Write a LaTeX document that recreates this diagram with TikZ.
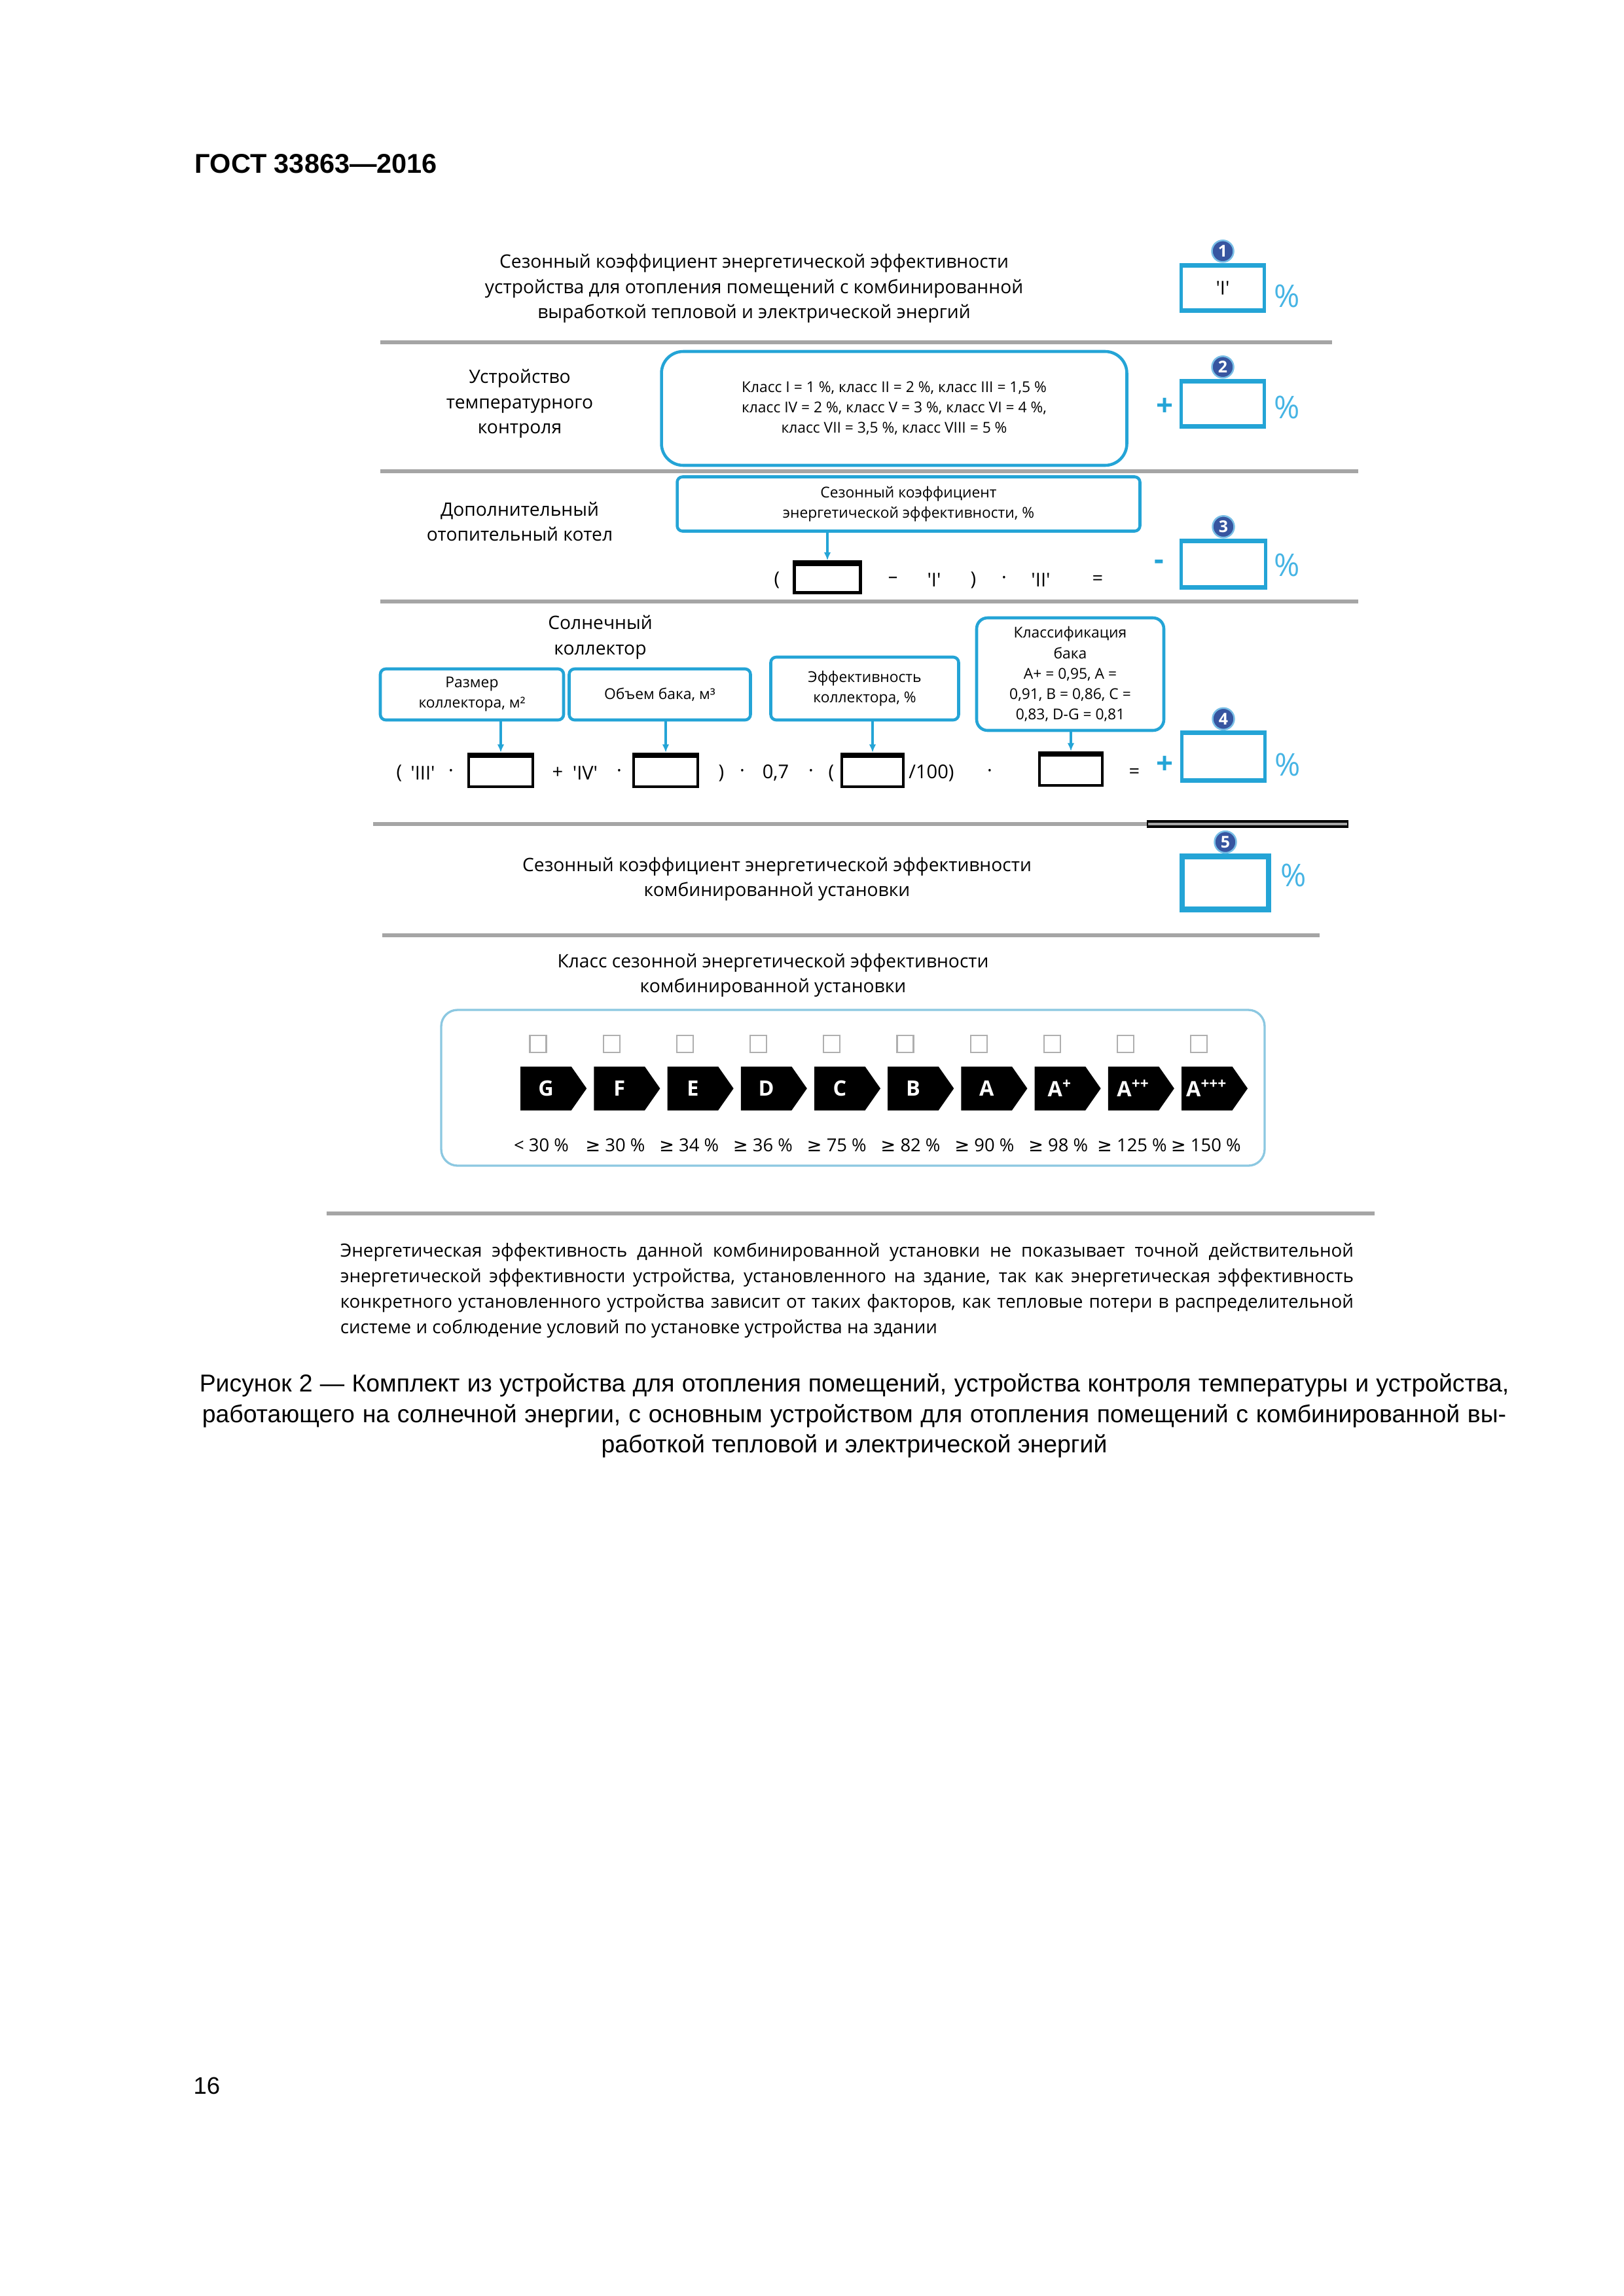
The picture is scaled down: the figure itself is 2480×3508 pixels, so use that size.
\documentclass[tikz,border=0pt]{standalone}
\usepackage{fontspec}
\setmainfont{Liberation Sans}
\newfontfamily\dfont[Ligatures=TeXOff]{Open Sans}
\newfontfamily\symfont{DejaVu Sans}
\usetikzlibrary{positioning, shapes.symbols, arrows.meta}

\definecolor{boxblue}{RGB}{36,164,214}
\definecolor{pctblue}{RGB}{70,180,228}
\definecolor{numblue}{RGB}{55,85,160}
\definecolor{numring}{RGB}{120,190,230}
\definecolor{sepgray}{RGB}{165,165,165}
\definecolor{chkgray}{RGB}{175,175,175}
\definecolor{framblue}{RGB}{140,200,225}

\newcommand\pxu{0.24093pt}
\newcommand\q[1]{\textquotesingle#1\textquotesingle}
\newcommand\gsym{{\symfont ≥}}

\tikzset{
  hdr/.style={font=\bfseries\fontsize{10}{11}\selectfont, inner sep=0pt},
  ttl/.style={font=\dfont\fontsize{6.8}{9.3}\selectfont, align=center, inner sep=0pt},
  small/.style={font=\dfont\fontsize{5.5}{7.5}\selectfont, align=center},
  frm/.style={font=\dfont\fontsize{7}{9}\selectfont, inner sep=0pt},
  op/.style={text=boxblue, font=\dfont\bfseries\fontsize{11}{11}\selectfont, inner sep=0pt},
  pct/.style={text=pctblue, font=\dfont\fontsize{11.5}{11.5}\selectfont, inner sep=0pt},
  sep/.style={draw=sepgray, line width=1.3pt},
  rbox/.style={small, draw=boxblue, line width=1.1pt, inner sep=0pt},
  ansbox/.style={draw=boxblue, line width=1.2pt, minimum width=127*\pxu, minimum height=72*\pxu,
    inner sep=0pt, font=\dfont\fontsize{7}{9}\selectfont,
    path picture={\draw[boxblue, line width=2.4pt]
      (path picture bounding box.north west) -- (path picture bounding box.north east)
      (path picture bounding box.south west) -- (path picture bounding box.south east);}},
  blkbox/.style={draw=black, line width=1pt, minimum width=98*\pxu, minimum height=50*\pxu, inner sep=0pt,
    path picture={\draw[line width=3pt]
      (path picture bounding box.north west) -- (path picture bounding box.north east);}},
  numc/.style={circle, fill=numblue, draw=numring, line width=0.6pt, text=white,
    font=\dfont\bfseries\fontsize{6}{6}\selectfont, minimum size=33*\pxu, inner sep=0pt},
  con/.style={draw=boxblue, line width=1pt, -{Latex[length=3pt, width=2.5pt]}},
  chk/.style={draw=chkgray, line width=0.5pt, minimum width=25*\pxu, minimum height=26*\pxu, inner sep=0pt},
  cls/.style={signal, signal to=east, signal pointer angle=110, fill=black, text=white,
    minimum width=101*\pxu, minimum height=67*\pxu, inner sep=0pt,
    font=\dfont\bfseries\fontsize{7.8}{8}\selectfont},
  lim/.style={font=\dfont\fontsize{6.6}{8}\selectfont, inner sep=0pt},
  note/.style={font=\dfont\fontsize{6.7}{9.4}\selectfont, align=left, inner sep=0pt},
  capt/.style={font=\fontsize{9}{11.1}\selectfont, align=center, inner sep=0pt},
}

\begin{document}
\begin{tikzpicture}[x=0.0084677cm, y=-0.0084677cm]
\fill[white] (0,0) rectangle (2480,3508);

\node[hdr, anchor=west] (head) at (297,250) {ГОСТ 33863—2016};

% 1: main heater
\node[ttl] (t1) at (1152,441) {Сезонный коэффициент энергетической эффективности\\устройства для отопления помещений с комбинированной\\выработкой тепловой и электрической энергий};
\node[ansbox] (b1) at (1868,440) {\q{I}};
\node[numc, above=0pt of b1] (n1) {1};
\node[pct] (p1) at (1966,452) {\%};
\draw[sep] (581,523) -- (2035,523);

% 2: temperature control
\node[ttl] (t2) at (794,617) {Устройство\\температурного\\контроля};
\node[rbox, rounded corners=8pt, minimum width=711*\pxu, minimum height=174*\pxu] (k2) at (1366,624)
  {Класс I = 1 \%, класс II = 2 \%, класс III = 1,5 \%\\класс IV = 2 \%, класс V = 3 \%, класс VI = 4 \%,\\класс VII = 3,5 \%, класс VIII = 5 \%};
\node[op] (o2) at (1780,622) {+};
\node[ansbox] (b2) at (1868,617) {};
\node[numc, above=0pt of b2] (n2) {2};
\node[pct] (p2) at (1966,622) {\%};
\draw[sep] (581,720) -- (2075,720);

% 3: supplementary boiler
\node[ttl] (t3) at (794,797) {Дополнительный\\отопительный котел};
\node[rbox, rounded corners=2pt, minimum width=707*\pxu, minimum height=83*\pxu] (k3) at (1388,770)
  {Сезонный коэффициент\\энергетической эффективности, \%};
\node[blkbox, minimum width=101*\pxu, minimum height=47*\pxu] (bk3) at (1264,882) {};
\draw[con] (bk3.north |- k3.south) -- (bk3.north);
\foreach \xx/\sym [count=\i] in {1187/(, 1364/–, 1427/\q{I}, 1487/), 1534/·, 1590/\q{II}, 1677/=}
  \node[frm] (f3\i) at (\xx,886) {\sym};
\node[op] (o3) at (1771,863) {-};
\node[ansbox, minimum width=129*\pxu, minimum height=74*\pxu] (b3) at (1869,862) {};
\node[numc, above=0pt of b3] (n3) {3};
\node[pct] (p3) at (1966,863) {\%};
\draw[sep] (581,919) -- (2075,919);

% 4: solar collector
\node[ttl] (t4) at (917,974) {Солнечный\\коллектор};
\node[rbox, rounded corners=2pt, minimum width=280*\pxu, minimum height=78*\pxu] (k4a) at (721,1061)
  {Размер\\коллектора, м²};
\node[rbox, rounded corners=2pt, minimum width=277*\pxu, minimum height=78*\pxu] (k4b) at (1008,1061)
  {Объем бака, м³};
\node[rbox, rounded corners=2pt, minimum width=287*\pxu, minimum height=96*\pxu] (k4c) at (1321,1052)
  {Эффективность\\коллектора, \%};
\node[rbox, rounded corners=4pt, minimum width=286*\pxu, minimum height=172*\pxu] (k4d) at (1635,1030)
  {Классификация\\бака\\A+ = 0,95, A =\\0,91, B = 0,86, C =\\0,83, D-G = 0,81};
\node[blkbox] (bk4a) at (765,1177) {};
\node[blkbox] (bk4b) at (1017,1177) {};
\node[blkbox, minimum width=94*\pxu] (bk4c) at (1333,1177) {};
\node[blkbox, minimum width=96*\pxu] (bk4d) at (1636,1175) {};
\draw[con] (bk4a.north |- k4a.south) -- (bk4a.north);
\draw[con] (bk4b.north |- k4b.south) -- (bk4b.north);
\draw[con] (bk4c.north |- k4c.south) -- (bk4c.north);
\draw[con] (bk4d.north |- k4d.south) -- (bk4d.north);
\foreach \xx/\sym [count=\i] in {610/(, 646/\q{III}, 689/·, 852/+, 894/\q{IV}, 946/·, 1102/), 1134/·,
    1185/{0,7}, 1239/·, 1270/(, 1423/{/100)}, 1512/·, 1733/=}
  \node[frm] (f4\i) at (\xx,1181) {\sym};
\node[op] (o4) at (1780,1169) {+};
\node[ansbox, minimum height=75*\pxu] (b4) at (1869,1156) {};
\node[numc, above=0pt of b4] (n4) {4};
\node[pct] (p4) at (1967,1168) {\%};
\draw[sep] (570,1259) -- (1752,1259);
\draw[line width=2.8pt] (1752,1259) -- (2060,1259);
\draw[sepgray, line width=1pt] (1754,1259) -- (2058,1259);

% 5: package efficiency
\node[ttl] (t5) at (1187,1343) {Сезонный коэффициент энергетической эффективности\\комбинированной установки};
\node[ansbox, line width=1.8pt, minimum width=132*\pxu, minimum height=82*\pxu] (b5) at (1872,1349) {};
\node[numc, above=0pt of b5] (n5) {5};
\node[pct] (p5) at (1976,1337) {\%};
\draw[sep] (584,1429) -- (2016,1429);

% 6: package class
\node[ttl] (t6) at (1181,1490) {Класс сезонной энергетической эффективности\\комбинированной установки};
\node[draw=framblue, line width=0.8pt, rounded corners=6pt, minimum width=1258*\pxu, minimum height=238*\pxu] (fr6) at (1303,1662) {};
\foreach \cl/\lm [count=\i from 0] in {G/{< 30 \%}, F/{\gsym\ 30 \%}, E/{\gsym\ 34 \%}, D/{\gsym\ 36 \%},
    C/{\gsym\ 75 \%}, B/{\gsym\ 82 \%}, A/{\gsym\ 90 \%}, {A\textsuperscript{+}}/{\gsym\ 98 \%},
    {A\textsuperscript{++}}/{\gsym\ 125 \%}, {A\textsuperscript{+++}}/{\gsym\ 150 \%}}
{
  \node[chk] (chk\i) at (822+112.2*\i,1595) {};
  \node[cls] (cls\i) at (834+112.2*\i,1663) {\cl};
  \node[lim] (lim\i) at (827+112.8*\i,1750) {\lm};
}
\draw[sep] (499,1854) -- (2100,1854);

% note under the label
\node[note, anchor=north west] (note) at (519,1898) {%
\makebox[373pt][s]{Энергетическая эффективность данной комбинированной установки не показывает точной действительной}\\
\makebox[373pt][s]{энергетической эффективности устройства, установленного на здание, так как энергетическая эффективность}\\
\makebox[373pt][s]{конкретного установленного устройства зависит от таких факторов, как тепловые потери в распределительной}\\
системе и соблюдение условий по установке устройства на здании};

% caption
\node[capt] (cap) at (1305,2163) {%
\makebox[482pt][s]{Рисунок 2 — Комплект из устройства для отопления помещений, устройства контроля температуры и устройства,}\\
\makebox[480pt][s]{работающего на солнечной энергии, с основным устройством для отопления помещений с комбинированной вы-}\\
работкой тепловой и электрической энергий};

\node[font=\fontsize{8.8}{10}\selectfont, inner sep=0pt] (page) at (316,3187) {16};
\end{tikzpicture}
\end{document}
